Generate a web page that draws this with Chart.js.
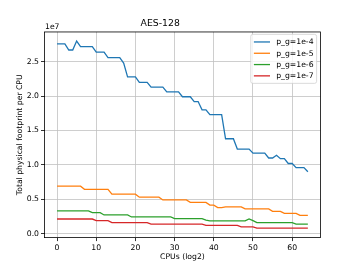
<!DOCTYPE html>
<html>
<head>
<meta charset="utf-8">
<script src="https://cdn.jsdelivr.net/npm/chart.js@4.4.0/dist/chart.umd.min.js"></script>
<style>
  html, body { margin: 0; padding: 0; background: #fff; }
  #wrap { width: 356px; height: 267px; }
</style>
</head>
<body>
<div id="wrap"><canvas id="chart" width="356" height="267"></canvas></div>
<script>
// x: CPUs (log2), y values are in units of 1e7
const cpus = [0,1,2,3,4,5,6,7,8,9,10,11,12,13,14,15,16,17,18,19,20,21,22,23,24,25,26,27,28,29,30,31,32,
  33,34,35,36,37,38,39,40,41,42,43,44,45,46,47,48,49,50,51,52,53,54,55,56,57,58,59,60,61,62,63,64];

const pg1e4 = [2.76,2.76,2.76,2.67,2.67,2.80,2.72,2.72,2.72,2.72,2.64,2.64,2.64,2.56,2.56,2.56,2.56,2.48,
  2.28,2.28,2.28,2.20,2.20,2.20,2.13,2.13,2.13,2.13,2.06,2.06,2.06,2.06,1.99,1.99,1.99,1.92,1.92,1.80,1.80,
  1.73,1.73,1.73,1.73,1.38,1.38,1.38,1.23,1.23,1.23,1.23,1.17,1.17,1.17,1.17,1.10,1.10,1.14,1.09,1.09,
  1.02,1.02,0.96,0.96,0.96,0.90];
const pg1e5 = [0.69,0.69,0.69,0.69,0.69,0.69,0.69,0.645,0.645,0.645,0.645,0.645,0.645,0.645,0.575,0.575,
  0.575,0.575,0.575,0.575,0.575,0.53,0.53,0.53,0.53,0.53,0.53,0.49,0.49,0.49,0.49,0.49,0.49,0.49,0.455,
  0.455,0.455,0.455,0.455,0.415,0.415,0.38,0.38,0.39,0.39,0.39,0.39,0.39,0.36,0.36,0.36,0.36,0.36,0.36,
  0.36,0.325,0.325,0.325,0.295,0.295,0.295,0.295,0.265,0.265,0.265];
const pg1e6 = [0.33,0.33,0.33,0.33,0.33,0.33,0.33,0.33,0.33,0.305,0.305,0.305,0.272,0.272,0.272,0.272,
  0.272,0.272,0.272,0.243,0.243,0.243,0.243,0.243,0.243,0.243,0.243,0.243,0.243,0.243,0.22,0.22,0.22,
  0.22,0.22,0.22,0.22,0.22,0.197,0.187,0.187,0.187,0.187,0.187,0.187,0.187,0.187,0.187,0.187,0.214,0.19,
  0.16,0.16,0.16,0.16,0.16,0.16,0.16,0.16,0.16,0.16,0.14,0.14,0.14,0.14];
const pg1e7 = [0.213,0.213,0.213,0.213,0.213,0.213,0.213,0.213,0.213,0.213,0.19,0.19,0.19,0.19,0.16,0.16,
  0.16,0.16,0.16,0.16,0.16,0.16,0.16,0.16,0.138,0.138,0.138,0.138,0.138,0.138,0.138,0.138,0.138,0.138,
  0.138,0.138,0.138,0.138,0.12,0.12,0.12,0.12,0.12,0.12,0.12,0.12,0.12,0.10,0.10,0.10,0.10,0.082,0.082,
  0.082,0.082,0.082,0.082,0.082,0.082,0.082,0.082,0.082,0.082,0.082,0.082];

const seriesLabels = ['p_g=1e-4', 'p_g=1e-5', 'p_g=1e-6', 'p_g=1e-7'];
const seriesValues = [pg1e4, pg1e5, pg1e6, pg1e7];
const seriesColors = ['#1f77b4', '#ff7f0e', '#2ca02c', '#d62728'];
const xTicks = [0, 10, 20, 30, 40, 50, 60];
const yTicks = [0.0, 0.5, 1.0, 1.5, 2.0, 2.5];

const FONT = '"DejaVu Sans", "Liberation Sans", sans-serif';
Chart.defaults.font.family = FONT;
Chart.defaults.color = '#000';

// frame, offset text and matplotlib-like legend
const mplExtras = {
  id: 'mplExtras',
  afterDatasetsDraw(chart) {
    const ctx = chart.ctx;
    const a = chart.chartArea;
    ctx.save();
    ctx.strokeStyle = '#000';
    ctx.lineWidth = 0.8;
    ctx.strokeRect(a.left, a.top, a.right - a.left, a.bottom - a.top);

    ctx.font = '7.7px ' + FONT;
    ctx.fillStyle = '#000';
    ctx.textAlign = 'left';
    ctx.textBaseline = 'alphabetic';
    ctx.fillText('1e7', a.left + 0.5, a.top - 3);

    const fs = 7.7;
    let tw = 0;
    seriesLabels.forEach(l => { tw = Math.max(tw, ctx.measureText(l).width); });
    const pad = 0.4 * fs, handle = 2.1 * fs, gap = 0.8 * fs, rowH = 11.3;
    const w = pad * 2 + handle + gap + tw;
    const h = rowH * seriesLabels.length + 3.8;
    const right = a.right - 3.8;
    const top = a.top + 2.4;
    const left = right - w;
    ctx.beginPath();
    ctx.roundRect(left, top, w, h, 2);
    ctx.fillStyle = 'rgba(255,255,255,0.8)';
    ctx.fill();
    ctx.strokeStyle = '#cccccc';
    ctx.lineWidth = 0.7;
    ctx.stroke();
    ctx.textBaseline = 'middle';
    seriesLabels.forEach((l, i) => {
      const cy = top + 7.6 + i * rowH;
      ctx.strokeStyle = seriesColors[i];
      ctx.lineWidth = 1.3;
      ctx.beginPath();
      ctx.moveTo(left + pad, cy);
      ctx.lineTo(left + pad + handle, cy);
      ctx.stroke();
      ctx.fillStyle = '#000';
      ctx.fillText(l, left + pad + handle + gap, cy + 0.5);
    });
    ctx.restore();
  }
};

new Chart(document.getElementById('chart'), {
  type: 'line',
  data: {
    datasets: seriesLabels.map((label, i) => ({
      label: label,
      data: cpus.map((c, j) => ({ x: c, y: seriesValues[i][j] })),
      borderColor: seriesColors[i],
      backgroundColor: seriesColors[i],
      borderWidth: 1.3,
      pointRadius: 0,
      tension: 0,
      fill: false,
      order: seriesLabels.length - i
    }))
  },
  options: {
    responsive: false,
    animation: false,
    devicePixelRatio: 1,
    layout: { padding: { left: 0, right: 35.6, top: 0, bottom: 0 } },
    plugins: {
      legend: { display: false },
      tooltip: { enabled: false },
      title: {
        display: true,
        text: 'AES-128',
        color: '#000',
        font: { size: 9.3, weight: 'normal' },
        padding: { top: 18, bottom: 2.8 }
      }
    },
    scales: {
      x: {
        type: 'linear',
        min: -3.2,
        max: 67.2,
        afterBuildTicks: s => { s.ticks = xTicks.map(v => ({ value: v })); },
        afterFit: s => { s.height = 29.4; },
        border: { display: false },
        grid: { color: '#c2c2c2', lineWidth: 0.8, tickLength: 3.5, tickColor: '#000', tickWidth: 0.8 },
        ticks: { padding: 2, color: '#000', font: { size: 7.7 }, maxRotation: 0, autoSkip: false,
          callback: v => String(v) },
        title: { display: true, text: 'CPUs (log2)', color: '#000', font: { size: 7.7 },
          padding: { top: 0, bottom: 5.4 } }
      },
      y: {
        type: 'linear',
        min: -0.057,
        max: 2.932,
        afterBuildTicks: s => { s.ticks = yTicks.map(v => ({ value: v })); },
        afterFit: s => { s.width = 44.5; },
        border: { display: false },
        grid: { color: '#c2c2c2', lineWidth: 0.8, tickLength: 3.5, tickColor: '#000', tickWidth: 0.8 },
        ticks: { padding: 2, color: '#000', font: { size: 7.7 }, callback: v => v.toFixed(1) },
        title: { display: true, text: 'Total physical footprint per CPU', color: '#000',
          font: { size: 7.7 }, padding: { top: 15.7, bottom: 0 } }
      }
    }
  },
  plugins: [mplExtras]
});
</script>
</body>
</html>
